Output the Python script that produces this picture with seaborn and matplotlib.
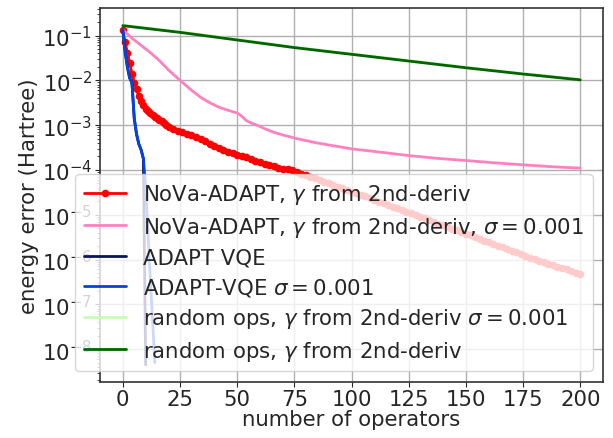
import numpy as np
import pandas as pd
import matplotlib
matplotlib.use("Agg")
import matplotlib.pyplot as plt
import seaborn as sns

# ---- data (log10 of energy error in Hartree) ----
nova_ops = list(range(0, 21)) + list(range(22, 201, 2))
nova_log_err = [
    -0.87, -1.15, -1.38, -1.62, -1.85, -2.05, -2.20, -2.35, -2.47, -2.56,
    -2.63, -2.68, -2.73, -2.78, -2.82, -2.85, -2.88, -2.90, -2.95, -3.00,
    -3.04,
    -3.09, -3.13, -3.16, -3.19, -3.22, -3.26, -3.30, -3.36, -3.42, -3.46,
    -3.50, -3.56, -3.60, -3.63, -3.66, -3.70, -3.72, -3.75, -3.79, -3.83,
    -3.86, -3.89, -3.92, -3.95, -3.97, -3.99, -4.01, -4.05, -4.08, -4.12,
    -4.15, -4.19, -4.23, -4.26, -4.30, -4.34, -4.38, -4.41, -4.45, -4.49,
    -4.52, -4.56, -4.59, -4.63, -4.67, -4.71, -4.74, -4.78, -4.82, -4.86,
    -4.89, -4.93, -4.97, -5.00, -5.04, -5.08, -5.12, -5.16, -5.20, -5.24,
    -5.28, -5.31, -5.35, -5.39, -5.42, -5.46, -5.50, -5.54, -5.58, -5.61,
    -5.65, -5.69, -5.72, -5.76, -5.80, -5.84, -5.88, -5.92, -5.96, -5.99,
    -6.03, -6.06, -6.10, -6.13, -6.16, -6.19, -6.22, -6.26, -6.29, -6.33,
]

nova_noisy_ops = [0, 4, 8, 12, 16, 20, 25, 30, 34, 38, 42, 46, 50, 52, 54, 56,
                  59, 62, 66, 70, 76, 84, 92, 100, 112, 125, 137, 150, 162,
                  176, 188, 200]
nova_noisy_log_err = [-0.87, -1.06, -1.22, -1.38, -1.56, -1.77, -2.00, -2.22,
                      -2.38, -2.50, -2.60, -2.67, -2.73, -2.80, -2.90, -2.95,
                      -3.01, -3.08, -3.16, -3.22, -3.30, -3.39, -3.46, -3.53,
                      -3.60, -3.68, -3.74, -3.79, -3.84, -3.89, -3.93, -3.96]

adapt_ops = list(range(0, 11))
adapt_log_err = [-0.87, -1.35, -1.70, -1.95, -2.05, -2.85, -3.20, -3.42,
                 -3.55, -3.75, -8.35]

adapt_noisy_ops = list(range(0, 15))
adapt_noisy_log_err = [-0.87, -1.35, -1.70, -1.95, -2.05, -2.85, -3.20, -3.42,
                       -3.55, -3.75, -4.40, -5.40, -6.40, -7.35, -8.30]

random_ops = [0, 25, 50, 75, 100, 125, 150, 175, 200]
random_noisy_log_err = [-0.77, -0.92, -1.09, -1.26, -1.41, -1.56, -1.71, -1.85, -1.98]
random_log_err = [-0.78, -0.93, -1.10, -1.27, -1.42, -1.57, -1.72, -1.86, -1.99]

labels = [
    r"NoVa-ADAPT, $\gamma$ from 2nd-deriv",
    r"NoVa-ADAPT, $\gamma$ from 2nd-deriv, $\sigma = 0.001$",
    "ADAPT VQE",
    r"ADAPT-VQE $\sigma = 0.001$",
    r"random ops, $\gamma$ from 2nd-deriv $\sigma = 0.001$",
    r"random ops, $\gamma$ from 2nd-deriv",
]
colors = ["#ff0000", "#ff81c0", "#0a1560", "#0343df", "#c7fdb5", "#006400"]

series = [
    (nova_ops, nova_log_err),
    (nova_noisy_ops, nova_noisy_log_err),
    (adapt_ops, adapt_log_err),
    (adapt_noisy_ops, adapt_noisy_log_err),
    (random_ops, random_noisy_log_err),
    (random_ops, random_log_err),
]

FS = 15.3

sns.set_style("ticks")
plt.rcParams["font.family"] = ["DejaVu Sans"]
plt.rcParams["font.size"] = FS

fig = plt.figure(figsize=(6.13, 4.39), dpi=100)
ax = fig.add_axes([0.163, 0.128, 0.821, 0.851])

for i, ((xs, ys), lab, col) in enumerate(zip(series, labels, colors)):
    df = pd.DataFrame({"ops": xs, "err": 10.0 ** np.asarray(ys)})
    kw = dict(marker="o", markersize=5.5, markeredgewidth=0) if i == 0 else {}
    sns.lineplot(data=df, x="ops", y="err", ax=ax, color=col, label=lab,
                 linewidth=2, estimator=None, sort=False, **kw)

ax.set_yscale("log")
ax.grid(True, which="major", color="#b0b0b0", linewidth=1.0)
ax.set_xticks([0, 25, 50, 75, 100, 125, 150, 175, 200])
ax.tick_params(axis="both", labelsize=FS, direction="out", pad=2)
ax.set_xlabel("number of operators", fontsize=FS, labelpad=0)
ax.set_ylabel("energy error (Hartree)", fontsize=FS, labelpad=2)
for s in ax.spines.values():
    s.set_color("0.2")
    s.set_linewidth(1.2)

ax.legend(loc="lower right", fontsize=FS, framealpha=0.8, labelspacing=0.4)

fig.savefig("out.png", dpi=100)
